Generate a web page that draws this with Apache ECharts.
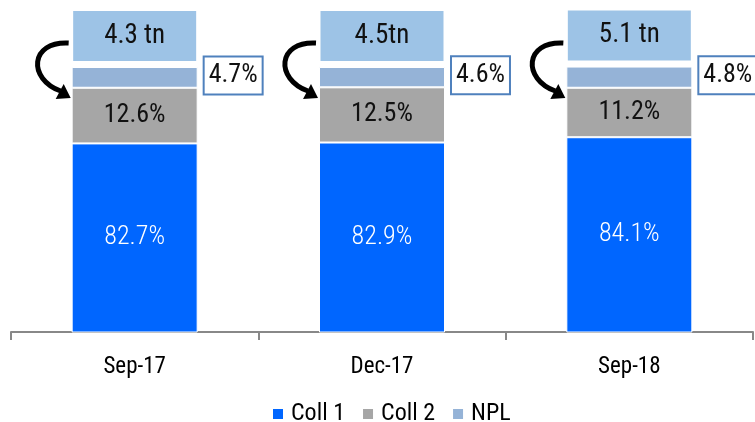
<!DOCTYPE html>
<html><head><meta charset="utf-8">
<script src="https://cdn.jsdelivr.net/npm/echarts@6/dist/echarts.min.js"></script>
<style>html,body{margin:0;padding:0;background:#fff}#c{width:755px;height:422px}</style>
</head><body><div id="c"></div>
<script>
const categories = ['Sep-17', 'Dec-17', 'Sep-18'];
const coll1 = [82.7, 82.9, 84.1];
const coll2 = [12.6, 12.5, 11.2];
const npl = [4.7, 4.6, 4.8];
const totals = ['4.3 tn', '4.5tn', '5.1 tn'];

const FONT = '"Roboto Condensed", "DejaVu Sans Condensed", sans-serif';
const FW = 400;
const BAR_W = 126;
const chart = echarts.init(document.getElementById('c'));

const option = {
  animation: false,
  textStyle: { fontFamily: FONT, fontWeight: FW },
  grid: { left: 11, right: 2, top: 67, bottom: 90 },
  legend: {
    data: ['Coll 1', 'Coll 2', 'NPL'],
    left: 266, top: 397,
    icon: 'rect', itemWidth: 12, itemHeight: 12, itemGap: 16,
    textStyle: { fontFamily: FONT, fontWeight: FW, fontSize: 24, color: '#000', padding: [0, 0, 0, 2] }
  },
  xAxis: {
    type: 'category', data: categories,
    axisLine: { lineStyle: { color: '#888', width: 2 } },
    axisTick: { show: true, length: 8, lineStyle: { color: '#888', width: 2 } },
    axisLabel: { fontFamily: FONT, fontWeight: FW, fontSize: 23, color: '#000', margin: 24 }
  },
  yAxis: { type: 'value', min: 40, max: 100, show: false, splitLine: { show: false } },
  series: [
    {
      name: 'Coll 1', type: 'bar', stack: 's', data: coll1, barWidth: BAR_W,
      itemStyle: { color: '#0066FF', borderColor: '#fff', borderWidth: 1 },
      label: { show: true, position: 'inside', color: '#fff', fontFamily: FONT, fontWeight: 300, fontSize: 26, formatter: p => p.value.toFixed(1) + '%' }
    },
    {
      name: 'Coll 2', type: 'bar', stack: 's', data: coll2,
      itemStyle: { color: '#A6A6A6', borderColor: '#fff', borderWidth: 1 },
      label: { show: true, position: 'inside', color: '#111', fontFamily: FONT, fontWeight: FW, fontSize: 26, formatter: p => p.value.toFixed(1) + '%' }
    },
    {
      name: 'NPL', type: 'bar', stack: 's', data: npl, clip: false,
      itemStyle: { color: '#95B3D7', borderColor: '#fff', borderWidth: 1 },
      label: {
        show: true, position: 'right', distance: 7, offset: [0, -2],
        color: '#111', fontFamily: FONT, fontWeight: FW, fontSize: 26,
        backgroundColor: '#fff', borderColor: '#4F81BD', borderWidth: 2, padding: [6, 4, 4, 4],
        formatter: p => p.value.toFixed(1) + '%'
      }
    },
    {
      name: 'Total', type: 'bar', stack: 's', data: totals.map(() => 0), clip: false,
      itemStyle: { color: 'transparent' },
      label: {
        show: true, position: 'top', distance: 6,
        color: '#111', fontFamily: FONT, fontWeight: FW, fontSize: 27,
        backgroundColor: '#9DC3E6', width: 123, height: 50, lineHeight: 50, align: 'center',
        formatter: p => totals[p.dataIndex]
      }
    }
  ]
};
chart.setOption(option);

// curved arrows to the left of each bar, positioned from the axis scales
const graphics = [];
categories.forEach((c, i) => {
  const [cx, ty] = chart.convertToPixel({ gridIndex: 0 }, [i, 100]);
  const bx = cx - BAR_W / 2;
  const sx = bx - 3, sy = ty - 24;
  const ex = bx - 11, ey = ty + 24;
  graphics.push({
    type: 'bezierCurve',
    shape: { x1: sx, y1: sy, cpx1: bx - 42, cpy1: sy - 2, cpx2: bx - 44, cpy2: ey - 12, x2: ex, y2: ey },
    style: { stroke: '#000', lineWidth: 5, fill: null }
  });
  graphics.push({
    type: 'polygon',
    shape: { points: [[bx - 1, ty + 31], [bx - 8, ty + 17], [bx - 16, ty + 32]] },
    style: { fill: '#000' }
  });
});
chart.setOption({ graphic: graphics });
</script>
</body></html>
